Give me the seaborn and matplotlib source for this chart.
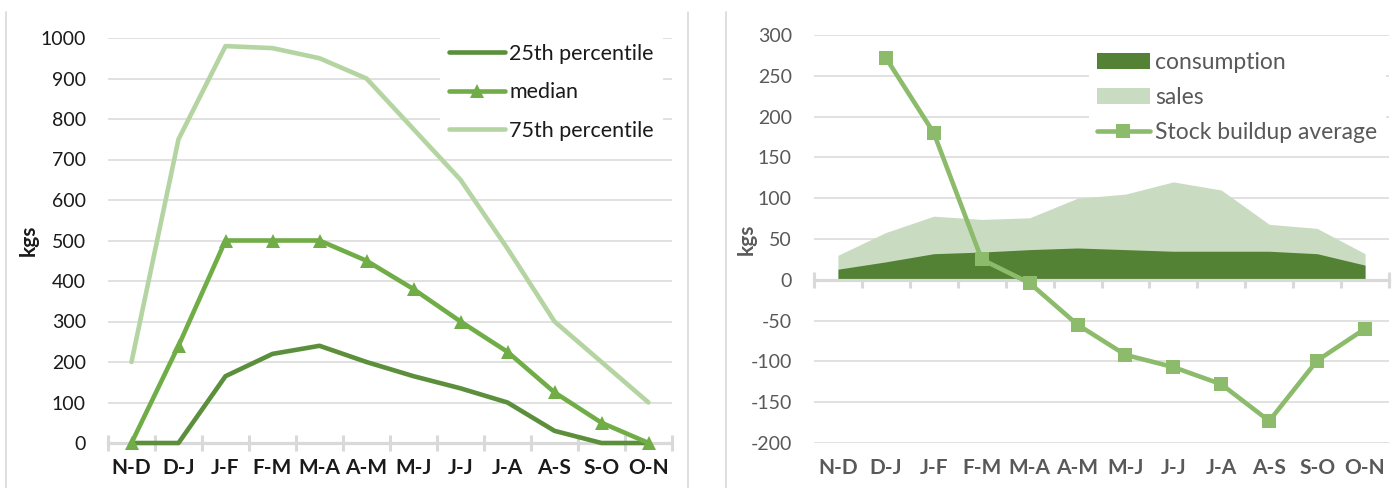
import numpy as np
import pandas as pd
import matplotlib
matplotlib.use("Agg")
import matplotlib.pyplot as plt
from matplotlib.lines import Line2D
from matplotlib.patches import Patch
from matplotlib.ticker import FixedLocator
import seaborn as sns

# ---------------- data ----------------
categories = ["N-D", "D-J", "J-F", "F-M", "M-A", "A-M", "M-J", "J-J", "J-A", "A-S", "S-O", "O-N"]

p25 = [0, 0, 165, 220, 240, 200, 165, 135, 100, 30, 0, 0]
median = [0, 240, 500, 500, 500, 450, 380, 300, 225, 125, 50, 0]
p75 = [200, 750, 980, 975, 950, 900, 775, 650, 480, 300, 200, 100]

consumption = [13, 22, 32, 34, 37, 39, 37, 35, 35, 35, 32, 18]
sales = [30, 58, 78, 74, 76, 100, 105, 120, 110, 68, 63, 32]
stock_buildup = [np.nan, 272, 180, 25, -4, -55, -92, -107, -128, -173, -99, -60]

left_yticks = [0, 100, 200, 300, 400, 500, 600, 700, 800, 900, 1000]
right_yticks = [-200, -150, -100, -50, 0, 50, 100, 150, 200, 250, 300]

# ---------------- style ----------------
sns.set_style("white")
plt.rcParams["font.family"] = ["Lato", "DejaVu Sans"]

C25 = "#5b8f3c"
CMED = "#70ad47"
C75 = "#b4d4a2"
CCONS = "#548235"
CSALES = "#c9dcc1"
CSTOCK = "#8bbb6b"
GRID = "#d9d9d9"
AXC = "#d9d9d9"
TXT_L = "#1a1a1a"
TXT_R = "#595959"

W, H = 1393, 488
fig = plt.figure(figsize=(W / 100, H / 100), dpi=100)

def px_axes(x0, x1, ytop, ybot):
    return fig.add_axes([x0 / W, 1 - ybot / H, (x1 - x0) / W, (ybot - ytop) / H])

ax1 = px_axes(108, 672, 38, 443)
ax2 = px_axes(814, 1389, 35, 443)

x = np.arange(len(categories))
df1 = pd.DataFrame({"x": x, "p25": p25, "median": median, "p75": p75})
df2 = pd.DataFrame({"x": x, "consumption": consumption, "sales": sales, "stock": stock_buildup})

LW = 3.3
# ---------------- left chart ----------------
sns.lineplot(data=df1, x="x", y="p75", ax=ax1, color=C75, lw=LW, clip_on=False, zorder=3)
sns.lineplot(data=df1, x="x", y="p25", ax=ax1, color=C25, lw=LW, clip_on=False, zorder=4)
sns.lineplot(data=df1, x="x", y="median", ax=ax1, color=CMED, lw=LW, marker="^",
             markersize=10, markeredgewidth=0, clip_on=False, zorder=5)

ax1.set_xlim(-0.5, len(categories) - 0.5)
ax1.set_ylim(left_yticks[0], left_yticks[-1])
ax1.set_yticks(left_yticks)
ax1.set_yticklabels([str(v) for v in left_yticks])

# ---------------- right chart ----------------
ax2.fill_between(df2["x"], 0, df2["sales"], color=CSALES, lw=0, zorder=1)
ax2.fill_between(df2["x"], 0, df2["consumption"], color=CCONS, lw=0, zorder=2)
sns.lineplot(data=df2, x="x", y="stock", ax=ax2, color=CSTOCK, lw=LW, marker="s",
             markersize=10, markeredgewidth=0, clip_on=False, zorder=5)
ax2.set_xlim(-0.5, len(categories) - 0.5)
ax2.set_ylim(right_yticks[0], right_yticks[-1])
ax2.set_yticks(right_yticks)
ax2.set_yticklabels([str(v) for v in right_yticks])

# ---------------- common axis styling ----------------
bounds = np.arange(len(categories) + 1) - 0.5
for ax, tc in ((ax1, TXT_L), (ax2, TXT_R)):
    ax.set_xlabel("")
    ax.set_ylabel("kgs", fontsize=15, fontweight="bold", color=tc, labelpad=4)
    for s in ("top", "right", "left"):
        ax.spines[s].set_visible(False)
    ax.spines["bottom"].set_color(AXC)
    ax.spines["bottom"].set_linewidth(2.3)
    ax.spines["bottom"].set_zorder(2.5)
    ax.yaxis.grid(True, color=GRID, lw=1.1)
    ax.set_axisbelow(True)
    ax.tick_params(axis="y", length=0, pad=16, labelsize=14, labelcolor=tc)
    ax.xaxis.set_minor_locator(FixedLocator(bounds))
    ax.tick_params(axis="x", which="minor", bottom=True, direction="inout", length=11,
                   width=2.2, color=AXC)

# left x labels on the bottom spine
ax1.set_xticks(x)
ax1.set_xticklabels(categories)
ax1.tick_params(axis="x", which="major", bottom=True, length=0, pad=11, labelsize=15,
                labelcolor=TXT_L)
for t in ax1.get_xticklabels():
    t.set_fontweight("bold")

# right: spine at zero, labels at the bottom via secondary axis
ax2.spines["bottom"].set_position(("data", 0))
ax2.set_xticks(x)
ax2.set_xticklabels([])
ax2.tick_params(axis="x", which="major", length=0)
sec = ax2.secondary_xaxis("bottom")
sec.set_xticks(x)
sec.set_xticklabels(categories)
sec.spines["bottom"].set_visible(False)
sec.tick_params(axis="x", length=0, pad=11, labelsize=15, labelcolor=TXT_R)
for t in sec.get_xticklabels():
    t.set_fontweight("bold")

# y gridline at zero hidden behind spine
ax1.yaxis.get_gridlines()[0].set_visible(False)
ax2.yaxis.get_gridlines()[right_yticks.index(0)].set_visible(False)

ax1.yaxis.set_label_coords(-0.122, 0.5)
ax2.yaxis.set_label_coords(-0.10, 0.5)

# ---------------- legends ----------------
h1 = [Line2D([], [], color=C25, lw=LW),
      Line2D([], [], color=CMED, lw=LW, marker="^", markersize=10, markeredgewidth=0),
      Line2D([], [], color=C75, lw=LW)]
leg1 = ax1.legend(h1, ["25th percentile", "median", "75th percentile"],
                  loc="upper left", bbox_to_anchor=(440 / W, 1 - 35 / H),
                  bbox_transform=fig.transFigure, frameon=True, facecolor="white",
                  edgecolor="none", framealpha=1, fontsize=15.5, handlelength=2.6,
                  handletextpad=0.22, labelspacing=0.86, borderpad=0.4, borderaxespad=0,
                  fancybox=False)
for t in leg1.get_texts():
    t.set_color(TXT_L)
leg1.set_zorder(10)

h2 = [Patch(facecolor=CCONS, edgecolor="none"),
      Patch(facecolor=CSALES, edgecolor="none"),
      Line2D([], [], color=CSTOCK, lw=LW, marker="s", markersize=10, markeredgewidth=0)]
leg2 = ax2.legend(h2, ["consumption", "sales", "Stock buildup average"],
                  loc="upper left", bbox_to_anchor=(1089 / W, 1 - 44 / H),
                  bbox_transform=fig.transFigure, frameon=True, facecolor="white",
                  edgecolor="none", framealpha=1, fontsize=16.5, handlelength=2.3,
                  handletextpad=0.25, labelspacing=0.62, borderpad=0.35, borderaxespad=0,
                  fancybox=False)
for t in leg2.get_texts():
    t.set_color(TXT_R)
leg2.set_zorder(10)

# panel separators
for xp in (6, 688, 726):
    fig.add_artist(Line2D([xp / W, xp / W], [0, 1 - 12 / H], transform=fig.transFigure,
                          color=GRID, lw=1.2))

fig.savefig("out.png", dpi=100)
